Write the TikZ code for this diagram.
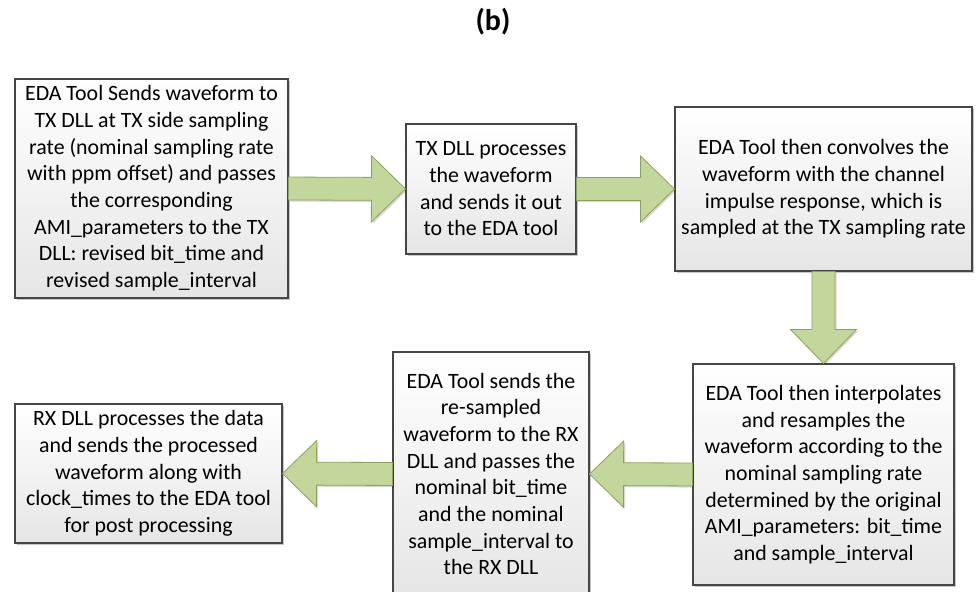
\documentclass[tikz,border=0pt]{standalone}
\usepackage{fontspec}
\setmainfont{Carlito}
\usetikzlibrary{calc,shadows}
\definecolor{arrowfill}{RGB}{195,214,155}
\definecolor{arrowline}{RGB}{140,162,90}
\definecolor{boxline}{RGB}{70,70,70}
\begin{document}
\begin{tikzpicture}[x=0.75pt,y=-0.75pt,line join=miter,
	stepbox/.style={draw=boxline,line width=0.8pt,top color=white,bottom color=black!10,
		align=center,inner sep=0pt,font=\fontsize{16.4pt}{20pt}\selectfont,
		drop shadow={shadow xshift=1.6pt,shadow yshift=-1.6pt,fill=black,opacity=0.22}},
	blockarrow/.style={draw=arrowline,fill=arrowfill,line width=0.6pt,
		drop shadow={shadow xshift=1.2pt,shadow yshift=-1.2pt,fill=black,opacity=0.15},
		to path={($(\tikztostart)!\aw!90:(\tikztotarget)$)
			-- ($($(\tikztotarget)!\al!(\tikztostart)$)!\aw!90:(\tikztotarget)$)
			-- ($($(\tikztotarget)!\al!(\tikztostart)$)!\ah!90:(\tikztotarget)$)
			-- (\tikztotarget)
			-- ($($(\tikztotarget)!\al!(\tikztostart)$)!\ah!-90:(\tikztotarget)$)
			-- ($($(\tikztotarget)!\al!(\tikztostart)$)!\aw!-90:(\tikztotarget)$)
			-- ($(\tikztostart)!\aw!-90:(\tikztotarget)$) -- cycle}}]
	\def\aw{8.6pt} \def\ah{24.8pt} \def\al{25.5pt} % shaft, head, head length
	
	\useasboundingbox (0,0) rectangle (978,592);
	\clip (0,0) rectangle (978,592);
	
	\node[font=\fontsize{22.5pt}{26pt}\bfseries] (title) at (493,22) {(b)};
	
	\node[stepbox,minimum width=204.75pt,minimum height=164.25pt] (send) at (151.5,188.5)
		{EDA Tool Sends waveform to\\TX DLL at TX side sampling\\rate (nominal sampling rate\\with ppm offset) and passes\\the corresponding\\AMI\_parameters to the TX\\DLL: revised bit\_time and\\revised sample\_interval};
	\node[stepbox,minimum width=127.5pt,minimum height=97.5pt] (txdll) at (491,189)
		{TX DLL processes\\the waveform\\and sends it out\\to the EDA tool};
	\node[stepbox,minimum width=222.75pt,minimum height=123pt] (conv) at (823.5,189)
		{EDA Tool then convolves the\\waveform with the channel\\impulse response, which is\\sampled at the TX sampling rate};
	\node[stepbox,minimum width=195.75pt,minimum height=165.75pt] (interp) at (823.5,474.5)
		{EDA Tool then interpolates\\and resamples the\\waveform according to the\\nominal sampling rate\\determined by the original\\AMI\_parameters: bit\_time\\and sample\_interval};
	\node[stepbox,minimum width=147pt,minimum height=183pt] (rxsend) at (491,474)
		{EDA Tool sends the\\re-sampled\\waveform to the RX\\DLL and passes the\\nominal bit\_time\\and the nominal\\sample\_interval to\\the RX DLL};
	\node[stepbox,minimum width=200.25pt,minimum height=104.25pt] (rxdll) at (148.5,473.5)
		{RX DLL processes the data\\and sends the processed\\waveform along with\\clock\_times to the EDA tool\\for post processing};
	
	\draw[blockarrow] (send.east) to (txdll.west);
	\draw[blockarrow] (txdll.east) to (conv.west);
	\draw[blockarrow] (conv.south) to (interp.north);
	\draw[blockarrow] (interp.west) to (rxsend.east);
	\draw[blockarrow] (rxsend.west) to (rxdll.east);
\end{tikzpicture}
\end{document}
